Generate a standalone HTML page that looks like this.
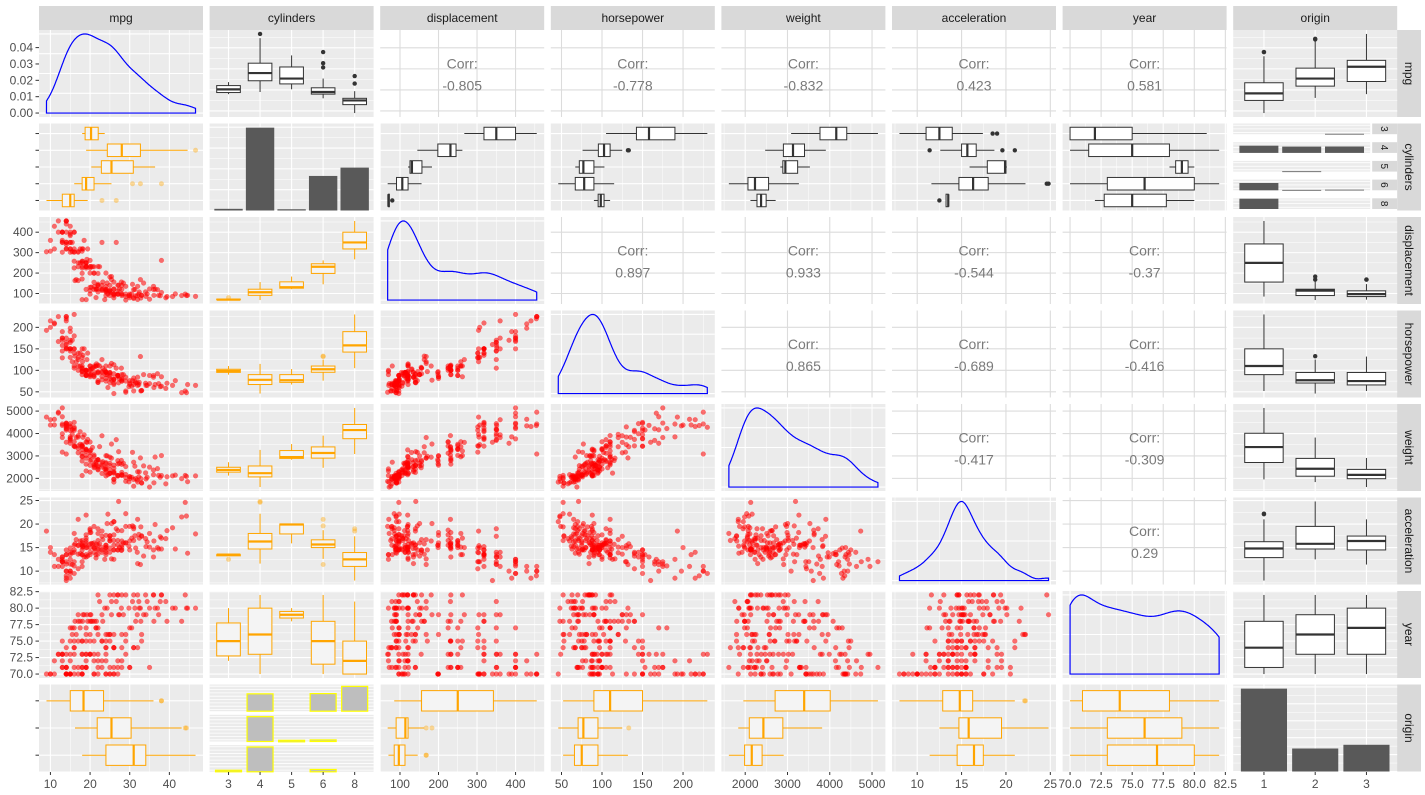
<!DOCTYPE html>
<html><head><meta charset="utf-8"><title>Auto pairs plot</title>
<style>
html,body{margin:0;padding:0;background:#fff;}
svg{display:block;font-family:"Liberation Sans",Arial,sans-serif;}
</style></head>
<body>
<svg id="chart" width="1425" height="795" viewBox="0 0 1425 795" xmlns="http://www.w3.org/2000/svg"></svg>
<script>
// columns: mpg, cylinders, displacement, horsepower, weight, acceleration, year, origin
const autoRows = [
[18,8,307,130,3504,12,70,1],[15,8,350,165,3693,11.5,70,1],[18,8,318,150,3436,11,70,1],[16,8,304,150,3433,12,70,1],
[17,8,302,140,3449,10.5,70,1],[15,8,429,198,4341,10,70,1],[14,8,454,220,4354,9,70,1],[14,8,440,215,4312,8.5,70,1],
[14,8,455,225,4425,10,70,1],[15,8,390,190,3850,8.5,70,1],[15,8,383,170,3563,10,70,1],[14,8,340,160,3609,8,70,1],
[15,8,400,150,3761,9.5,70,1],[14,8,455,225,3086,10,70,1],[24,4,113,95,2372,15,70,3],[22,6,198,95,2833,15.5,70,1],
[18,6,199,97,2774,15.5,70,1],[21,6,200,85,2587,16,70,1],[27,4,97,88,2130,14.5,70,3],[26,4,97,46,1835,20.5,70,2],
[25,4,110,87,2672,17.5,70,2],[24,4,107,90,2430,14.5,70,2],[25,4,104,95,2375,17.5,70,2],[26,4,121,113,2234,12.5,70,2],
[21,6,199,90,2648,15,70,1],[10,8,360,215,4615,14,70,1],[10,8,307,200,4376,15,70,1],[11,8,318,210,4382,13.5,70,1],
[9,8,304,193,4732,18.5,70,1],[27,4,97,88,2130,14.5,71,3],[28,4,140,90,2264,15.5,71,1],[25,4,113,95,2228,14,71,3],
[19,6,232,100,2634,13,71,1],[16,6,225,105,3439,15.5,71,1],[17,6,250,100,3329,15.5,71,1],[19,6,250,88,3302,15.5,71,1],
[18,6,232,100,3288,15.5,71,1],[14,8,350,165,4209,12,71,1],[14,8,400,175,4464,11.5,71,1],[14,8,351,153,4154,13.5,71,1],
[13,8,400,175,5140,12,71,1],[13,8,400,170,4746,12,71,1],[19,6,250,100,3282,15,71,1],[18,6,258,110,2962,13.5,71,1],
[23,4,122,86,2220,14,71,1],[22,4,140,72,2408,19,71,1],[35,4,72,69,1613,18,71,3],[30,4,88,76,2065,14.5,71,2],
[26,4,91,70,1955,20.5,71,1],[30,4,79,70,2074,19.5,71,2],[23,4,120,97,2506,14.5,72,3],[19,3,70,97,2330,13.5,72,3],
[24,4,113,95,2278,15.5,72,3],[21,4,120,87,2979,19.5,72,2],[22,4,121,76,2511,18,72,2],[11,8,429,208,4633,11,72,1],
[13,8,400,190,4422,12.5,72,1],[15,8,318,150,4135,13.5,72,1],[28,4,98,80,2164,15,72,1],[27,4,97,88,2100,16.5,72,3],
[18,3,70,90,2124,13.5,73,3],[20,4,97,88,2279,19,73,3],[13,8,350,145,3988,13,73,1],[12,8,455,225,4951,11,73,1],
[12,8,400,167,4906,12.5,73,1],[15,8,318,150,3777,12.5,73,1],[13,8,351,158,4363,13,73,1],[16,8,400,230,4278,9.5,73,1],
[29,4,68,49,1867,19.5,73,2],[24,4,121,110,2660,14,73,2],[19,6,232,100,2901,16,73,1],[18,6,225,105,3121,16.5,73,1],
[16,6,258,110,3632,18,74,1],[14,8,318,150,4457,13.5,74,1],[31,4,79,67,1950,19,74,3],[32,4,71,65,1836,21,74,3],
[24,4,90,75,2108,15.5,74,2],[26,4,79,67,1963,15.5,74,2],[31,4,76,52,1649,16.5,74,3],[20,6,232,100,2789,15,73,1],
[29,4,97,75,2171,16,75,3],[23,4,115,95,2694,15,75,2],[13,8,302,129,3169,12,75,1],[16,8,318,150,4498,14.5,75,1],
[18,6,250,105,3459,16,75,1],[19,6,232,90,3211,17,75,1],[21,6,231,110,3039,15,75,1],[15,8,350,145,4440,14,75,1],
[25,4,116,81,2220,16.9,76,2],[20,4,130,102,3150,15.7,76,2],[16.5,6,168,120,3820,16.7,76,2],[19,4,120,88,3270,21.9,76,2],
[24,6,200,81,3012,17.6,76,1],[26,4,98,79,2255,17.7,76,1],[28,4,97,75,2155,16.4,76,3],[25,4,140,92,2572,14.9,76,1],
[24.5,4,98,60,2164,22.1,76,1],[29,4,85,52,2035,22.2,76,1],[33,4,91,53,1795,17.4,76,3],[15.5,8,304,120,3962,13.9,76,1],
[16,8,400,180,4220,11.1,77,1],[15.5,8,350,170,4165,11.4,77,1],[15,8,302,130,4295,14.9,77,1],[21.5,3,80,110,2720,13.5,77,3],
[22,6,146,97,2815,14.5,77,3],[30,4,97,67,1985,16.4,77,3],[21.5,4,121,110,2600,12.8,77,2],[19,6,225,100,3630,17.7,77,1],
[20,6,225,110,3620,18.7,78,1],[17.5,8,318,140,4080,13.7,78,1],[17,6,163,125,3140,13.6,78,2],[20.3,5,131,103,2830,15.9,78,2],
[21.1,4,134,95,2515,14.8,78,3],[36.1,4,91,60,1800,16.4,78,3],[39.4,4,85,70,2070,18.6,78,3],[43.1,4,90,48,1985,21.5,78,2],
[18.1,6,258,120,3410,15.1,78,1],[19.4,8,318,140,3735,13.2,78,1],[18.5,8,360,150,3940,13,79,1],[23,8,350,125,3900,17.4,79,1],
[19.2,8,267,125,3605,15,79,1],[17,8,305,130,3840,15.4,79,1],[20,6,200,85,2990,18.2,79,1],[33.5,4,151,90,2556,13.2,79,1],
[27.2,4,141,71,3190,24.8,79,2],[37.3,4,91,69,2130,14.7,79,2],[34.1,4,86,65,1975,15.2,79,3],[25.4,5,183,77,3530,20.1,79,2],
[28.4,4,151,90,2670,16,79,1],[31.9,4,89,71,1925,14,79,2],[46.6,4,86,65,2110,17.9,80,3],[44.6,4,91,67,1850,13.8,80,3],
[44.3,4,90,48,2085,21.7,80,2],[41.5,4,98,76,2144,14.7,80,2],[40.8,4,85,65,2110,19.2,80,3],[37,4,119,92,2434,15,80,3],
[31.3,4,120,75,2542,17.5,80,3],[29.8,4,89,62,1845,15.3,80,2],[36.4,5,121,67,2950,19.9,80,2],[32.7,6,168,132,2910,11.4,80,3],
[32.4,4,107,72,2290,17,80,3],[35,4,122,88,2500,15.1,80,2],[23.7,3,70,100,2420,12.5,80,3],[27.9,4,156,105,2800,14.4,80,1],
[30.7,6,145,76,3160,19.6,81,2],[25.4,6,168,116,2900,12.6,81,3],[26.6,8,350,105,3725,19,81,1],[22.4,6,231,110,3415,15.8,81,1],
[37.7,4,89,62,2050,17.3,81,3],[39.1,4,79,58,1755,16.9,81,3],[32.3,4,97,67,2065,17.8,81,3],[34.4,4,98,65,2045,16.2,81,1],
[28,4,120,79,2625,18.6,82,1],[31,4,119,82,2720,19.4,82,1],[27,4,140,86,2790,15.6,82,1],[34,4,108,70,2245,16.9,82,3],
[29,4,135,84,2525,16,82,1],[25,6,181,110,2945,16.4,82,1],[38,6,262,85,3015,17,82,1],[22,6,232,112,2835,14.7,82,1],
[26,4,156,92,2585,14.5,82,1],[36,4,135,84,2370,13,82,1],[38,4,105,63,2125,14.7,82,1],[32,4,135,84,2295,11.6,82,1],
[44,4,97,52,2130,24.6,82,2],[27,4,112,88,2640,18.6,82,1],[36,4,120,88,2160,14.5,82,3],[24,4,120,97,2489,15,74,3],
[20,4,114,91,2582,14,73,2],[14,8,318,150,4237,14.5,73,1],[17,6,231,110,3907,21,75,1],[22,4,108,94,2379,16.5,73,3],
[26,4,122,80,2451,16.5,74,1],[13,8,360,175,3821,11,73,1],[21,6,155,107,2472,14,73,1],[28,4,90,75,2125,14.5,74,1],
[20,6,262,110,3221,13.5,75,1],[23,4,140,78,2592,18.5,75,1],[25,4,90,71,2223,16.5,75,2],[33,4,91,53,1795,17.5,75,3],
[18,6,171,97,2984,14.5,75,1],[22,4,140,72,2565,13.6,76,1],[17.5,6,250,110,3520,16.4,77,1],[30.5,4,98,63,2051,17,77,1],
[24,4,134,96,2702,13.5,75,3],[26,4,97,78,2300,14.5,74,2],[16,8,302,140,4141,14,74,1],[19,6,250,88,3021,16.5,73,1],
[18.2,8,318,135,3830,15.2,79,1],[21.6,4,121,115,2795,15.7,78,2],[24.3,4,151,90,3003,20.1,80,1],[27.4,4,121,80,2670,15,79,1],
[32.8,4,78,52,1985,19.4,78,3],[20.6,6,231,105,3380,15.8,78,1],[31.5,4,89,71,1990,14.9,78,2],[23.2,4,156,105,2745,16.7,78,1],
[16.2,6,163,133,3410,15.8,78,2],[20.2,6,232,90,3265,18.2,79,1]
];
const varNames = ['mpg','cylinders','displacement','horsepower','weight','acceleration','year','origin'];
const cylLevels = ['3','4','5','6','8'];
const originLevels = ['1','2','3'];
const cylCounts = [4,199,3,83,103];
const originCounts = [245,68,79];
const cylByOrigin = [[0,0,4],[72,63,64],[0,3,0],[73,4,6],[103,0,0]];
const corrRows = [0,0,0,0,0,2,2,2,2,3,3,3,4,4,5];
const corrCols = [2,3,4,5,6,3,4,5,6,4,5,6,5,6,6];
const corrVals = ['-0.805','-0.778','-0.832','0.423','0.581','0.897','0.933','-0.544','-0.37','0.865','-0.689','-0.416','-0.417','-0.309','0.29'];
const tickSets = [[10,20,30,40],null,[100,200,300,400],[50,100,150,200],[2000,3000,4000,5000],[10,15,20,25],[70,72.5,75,77.5,80,82.5],null];
const tickLabels = [['10','20','30','40'],['3','4','5','6','8'],['100','200','300','400'],['50','100','150','200'],['2000','3000','4000','5000'],['10','15','20','25'],['70.0','72.5','75.0','77.5','80.0','82.5'],['1','2','3']];
const densTicks = [0,0.01,0.02,0.03,0.04];
const densTickLabels = ['0.00','0.01','0.02','0.03','0.04'];

const NS='http://www.w3.org/2000/svg';
const svg=document.getElementById('chart');
function mk(tag,attrs,parent){const e=document.createElementNS(NS,tag);for(const k in attrs)e.setAttribute(k,attrs[k]);(parent||svg).appendChild(e);return e;}
function nm(e,n){
  
  
  return e;
}
const PW=164,PH=87;
const colX=i=>39+i*170.6;
const rowY=j=>30+j*93.5;
const col=k=>autoRows.map(r=>r[k]);
const isDisc=k=>k===1||k===7;
const levelsOf=k=>k===1?cylLevels:originLevels;
function rng(k){const a=col(k);const mn=Math.min(...a),mx=Math.max(...a);const p=(mx-mn)*0.05;return [mn-p,mx+p];}
function contX(k,i){const [a,b]=rng(k);const x0=colX(i);return v=>x0+(v-a)/(b-a)*PW;}
function contY(k,j){const [a,b]=rng(k);const y0=rowY(j);return v=>y0+PH-(v-a)/(b-a)*PH;}
function discPos(n,idx,start,len){return start+(idx+1-0.4)/(n+0.2)*len;}
function quant(s,p){const h=(s.length-1)*p,l=Math.floor(h);return s[l]+(s[Math.min(l+1,s.length-1)]-s[l])*(h-l);}
function boxStats(vals){const s=[...vals].sort((a,b)=>a-b);const q1=quant(s,0.25),q2=quant(s,0.5),q3=quant(s,0.75);const iq=q3-q1;
  const inn=s.filter(v=>v>=q1-1.5*iq&&v<=q3+1.5*iq);return {q1,q2,q3,lo:Math.min(...inn),hi:Math.max(...inn),out:s.filter(v=>v<q1-1.5*iq||v>q3+1.5*iq)};}
const STY={black:{st:'#333333',fill:'#ffffff',of:'#333333',oo:1,r:2.2},orange:{st:'#FFA500',fill:'#f4f4f4',of:'#FFA500',oo:0.4,r:2.5}};
function drawBox(g,vals,center,half,scale,vertical,style,name){
  if(!vals.length)return;const b=boxStats(vals);const S=STY[style];
  const grp=nm(mk('g',{},g),name);
  const L=(a1,b1,a2,b2,w)=>vertical?mk('line',{x1:a1,y1:b1,x2:a2,y2:b2,stroke:S.st,'stroke-width':w||1},grp):mk('line',{x1:b1,y1:a1,x2:b2,y2:a2,stroke:S.st,'stroke-width':w||1},grp);
  L(center,scale(b.hi),center,scale(b.q3));L(center,scale(b.q1),center,scale(b.lo));
  const p1=scale(b.q1),p3=scale(b.q3);
  if(vertical)mk('rect',{x:center-half,y:Math.min(p1,p3),width:2*half,height:Math.abs(p1-p3),fill:S.fill,stroke:S.st},grp);
  else mk('rect',{x:Math.min(p1,p3),y:center-half,width:Math.abs(p1-p3),height:2*half,fill:S.fill,stroke:S.st},grp);
  L(center-half,scale(b.q2),center+half,scale(b.q2),2.2);
  b.out.forEach(v=>{const o=vertical?mk('circle',{cx:center,cy:scale(v),r:S.r,fill:S.of,'fill-opacity':S.oo},grp):mk('circle',{cx:scale(v),cy:center,r:S.r,fill:S.of,'fill-opacity':S.oo},grp);
    
    });
}
function kde(vals){const n=vals.length;const s=[...vals].sort((a,b)=>a-b);const m=s.reduce((a,b)=>a+b,0)/n;
  const sd=Math.sqrt(s.reduce((a,b)=>a+(b-m)*(b-m),0)/(n-1));const iq=quant(s,0.75)-quant(s,0.25);
  const bw=0.9*Math.min(sd,iq/1.34)*Math.pow(n,-0.2);const mn=s[0],mx=s[n-1];const pts=[];
  for(let i=0;i<=200;i++){const x=mn+(mx-mn)*i/200;let d=0;for(const v of s){const z=(x-v)/bw;d+=Math.exp(-0.5*z*z);}pts.push([x,d/(n*bw*Math.sqrt(2*Math.PI))]);}
  return pts;}
function gridFor(g,k,isX,pos,x0,y0,color,minorOn){
  if(isDisc(k)){const n=levelsOf(k).length;for(let i=0;i<n;i++){const p=isX?discPos(n,i,x0,PW):discPos(n,i,y0,PH);
      if(isX)mk('line',{x1:p,y1:y0,x2:p,y2:y0+PH,stroke:color,'stroke-width':1.1},g);else mk('line',{x1:x0,y1:p,x2:x0+PW,y2:p,stroke:color,'stroke-width':1.1},g);}return;}
  const t=tickSets[k];const step=t[1]-t[0];const all=[];for(let v=t[0]-step;v<=t[t.length-1]+step;v+=step/2)all.push(v);
  all.forEach((v,ix)=>{const major=(ix%2===0);if(!major&&!minorOn)return;const p=pos(v);
    if(isX){if(p<x0||p>x0+PW)return;mk('line',{x1:p,y1:y0,x2:p,y2:y0+PH,stroke:color,'stroke-width':major?1.1:0.5},g);}
    else{if(p<y0||p>y0+PH)return;mk('line',{x1:x0,y1:p,x2:x0+PW,y2:p,stroke:color,'stroke-width':major?1.1:0.5},g);}});
}

varNames.forEach((v,i)=>{
  const s=nm(mk('g',{}),'column-strip-'+v);
  mk('rect',{x:colX(i),y:6,width:PW,height:24,fill:'#d9d9d9'},s);
  mk('text',{x:colX(i)+PW/2,y:22,'text-anchor':'middle','font-size':12,fill:'#1a1a1a'},s).textContent=v;
  const r=nm(mk('g',{}),'row-strip-'+v);
  mk('rect',{x:1397,y:rowY(i),width:24,height:PH,fill:'#d9d9d9'},r);
  mk('text',{x:0,y:0,'text-anchor':'middle','font-size':12,fill:'#1a1a1a',transform:`translate(1405,${rowY(i)+PH/2}) rotate(90)`},r).textContent=v;
});

for(let j=0;j<8;j++){for(let i=0;i<8;i++){
  const x0=colX(i),y0=rowY(j);const g=nm(mk('g',{}),`panel-${varNames[j]}-vs-${varNames[i]}`);
  const upper=i>j&&!isDisc(i)&&!isDisc(j);
  if(upper){
    mk('rect',{x:x0,y:y0,width:PW,height:PH,fill:'#ffffff'},g);
    gridFor(g,i,true,contX(i,i),x0,y0,'#dcdcdc',false);
    gridFor(g,j,false,contY(j,j),x0,y0,'#dcdcdc',false);
    continue;
  }
  if(j===1&&i===7){
    mk('rect',{x:x0,y:y0,width:PW,height:PH,fill:'#ffffff'},g);
    cylLevels.forEach((lv,a)=>{const fy=y0+a*18.7,fh=10.7;
      mk('rect',{x:x0,y:fy,width:137,height:fh,fill:'#ebebeb'},g);
      for(let q=0;q<3;q++)mk('line',{x1:x0,y1:fy+fh*(q+0.5)/3,x2:x0+137,y2:fy+fh*(q+0.5)/3,stroke:'#fff','stroke-width':0.8},g);
      const st=nm(mk('g',{},g),'facet-strip-cyl-'+lv);mk('rect',{x:x0+139,y:fy,width:25,height:fh,fill:'#d9d9d9'},st);
      mk('text',{x:0,y:0,'font-size':10,fill:'#1a1a1a','text-anchor':'middle',transform:`translate(${x0+148},${fy+fh/2}) rotate(90)`},st).textContent=lv;
      originLevels.forEach((o,b)=>{const c=cylByOrigin[a][b];if(!c)return;const cx=discPos(3,b,x0,137);const h=Math.min(c*0.1,fh);
        const r=mk('rect',{x:cx-19.5,y:fy+fh-h,width:39,height:Math.max(h,0.8),fill:'#595959'},g);
        
        });});
    continue;
  }
  if(j===7&&i===1){
    mk('rect',{x:x0,y:y0,width:PW,height:PH,fill:'#ffffff'},g);
    originLevels.forEach((o,b)=>{const fy=y0+b*30.3,fh=26.7;
      mk('rect',{x:x0,y:fy,width:PW,height:fh,fill:'#ebebeb'},g);
      for(let q=0;q<8;q++)mk('line',{x1:x0,y1:fy+fh*(q+0.5)/8,x2:x0+PW,y2:fy+fh*(q+0.5)/8,stroke:'#fff','stroke-width':0.8},g);
      const mx=Math.max(...cylByOrigin.map(r=>r[b]));
      cylLevels.forEach((lv,a)=>{const c=cylByOrigin[a][b];if(!c)return;const cx=discPos(5,a,x0,PW);const h=c/mx*fh*0.93;
        const r=mk('rect',{x:cx-13,y:fy+fh-h,width:26,height:Math.max(h,1.5),fill:'#bebebe',stroke:'#ffff00','stroke-width':1.2},g);
        
        });});
    continue;
  }
  mk('rect',{x:x0,y:y0,width:PW,height:PH,fill:'#ebebeb'},g);
  if(i===j){
    if(isDisc(i)){const n=levelsOf(i).length;const counts=i===1?cylCounts:originCounts;const mx=Math.max(...counts)*1.05;
      const ys=v=>y0+PH-v/mx*PH;
      for(let v=0;v<=mx;v+=25)mk('line',{x1:x0,y1:ys(v),x2:x0+PW,y2:ys(v),stroke:'#fff','stroke-width':v%50===0?1.1:0.5},g);
      gridFor(g,i,true,null,x0,y0,'#fff',false);
      const bw=0.9*PW/(n+0.2);
      counts.forEach((c,a)=>{const cx=discPos(n,a,x0,PW);const r=mk('rect',{x:cx-bw/2,y:ys(c),width:bw,height:ys(0)-ys(c),fill:'#595959'},g);
        
        });
    } else {
      const d=kde(col(i));const dm=Math.max(...d.map(p=>p[1]));const top=dm*1.05,bot=-dm*0.05;
      const ys=v=>y0+PH-(v-bot)/(top-bot)*PH;const xs=contX(i,i);
      gridFor(g,i,true,xs,x0,y0,'#fff',true);
      [0,dm/4,dm/2,dm*3/4,dm].forEach(v=>mk('line',{x1:x0,y1:ys(v),x2:x0+PW,y2:ys(v),stroke:'#fff','stroke-width':1.1},g));
      if(i===0){densTicks.forEach((v,ix)=>{mk('line',{x1:35.5,y1:ys(v),x2:39,y2:ys(v),stroke:'#333'});
        mk('text',{x:33,y:ys(v)+4,'text-anchor':'end','font-size':12,fill:'#4d4d4d'}).textContent=densTickLabels[ix];});}
      let pth=`M${xs(d[0][0])},${ys(0)}`;d.forEach(p=>pth+=`L${xs(p[0]).toFixed(1)},${ys(p[1]).toFixed(1)}`);pth+=`L${xs(d[d.length-1][0])},${ys(0)}Z`;
      const p=mk('path',{d:pth,fill:'none',stroke:'#0000ff','stroke-width':1.2},g);
      
      
    }
    continue;
  }
  gridFor(g,i,true,isDisc(i)?null:contX(i,i),x0,y0,'#fff',true);
  gridFor(g,j,false,isDisc(j)?null:contY(j,j),x0,y0,'#fff',true);
  if(!isDisc(i)&&!isDisc(j)){
    const xs=contX(i,i),ys=contY(j,j);
    autoRows.forEach(r=>{const c=mk('circle',{cx:xs(r[i]),cy:ys(r[j]),r:2.4,fill:'#ff0000','fill-opacity':0.55,stroke:'#ff0000','stroke-opacity':0.3,'stroke-width':0.5},g);
      
      });
  } else if(isDisc(i)&&!isDisc(j)){
    const n=levelsOf(i).length;const ys=contY(j,j);const half=0.375*PW/(n+0.2);
    const style=(i===7||j===0)?'black':'orange';
    levelsOf(i).forEach((lv,a)=>drawBox(g,autoRows.filter(r=>String(r[i])===lv).map(r=>r[j]),discPos(n,a,x0,PW),half,ys,true,style,'box-'+varNames[i]+lv));
  } else if(!isDisc(i)&&isDisc(j)){
    const n=levelsOf(j).length;const xs=contX(i,i);const half=0.375*PH/(n+0.2);
    const style=(j===1&&i>0)?'black':'orange';
    levelsOf(j).forEach((lv,a)=>{const idx=style==='black'?(n-1-a):a;
      drawBox(g,autoRows.filter(r=>String(r[j])===lv).map(r=>r[i]),discPos(n,idx,y0,PH),half,xs,false,style,'box-'+varNames[j]+lv);});
  }
}}

corrVals.forEach((v,ix)=>{const i=corrCols[ix],j=corrRows[ix];const cx=colX(i)+PW/2,cy=rowY(j)+PH/2;
  const t=mk('text',{x:cx,y:cy-5,'text-anchor':'middle','font-size':14,fill:'#7a7a7a'});t.textContent='Corr:';
  
  
  const t2=mk('text',{x:cx,y:cy+17,'text-anchor':'middle','font-size':14,fill:'#7a7a7a'});t2.textContent=v;
  
  });

for(let i=0;i<8;i++){const ax=nm(mk('g',{}),'x-axis-'+varNames[i]);const x0=colX(i);
  if(isDisc(i)){const L=levelsOf(i);L.forEach((lv,a)=>{const p=discPos(L.length,a,x0,PW);mk('line',{x1:p,y1:772,x2:p,y2:775,stroke:'#333'},ax);
    mk('text',{x:p,y:788,'text-anchor':'middle','font-size':12,fill:'#4d4d4d'},ax).textContent=tickLabels[i][a];});}
  else{const xs=contX(i,i);tickSets[i].forEach((v,a)=>{const p=xs(v);mk('line',{x1:p,y1:772,x2:p,y2:775,stroke:'#333'},ax);
    mk('text',{x:p,y:788,'text-anchor':'middle','font-size':12,fill:'#4d4d4d'},ax).textContent=tickLabels[i][a];});}
}
for(let j=1;j<8;j++){const ax=nm(mk('g',{}),'y-axis-'+varNames[j]);const y0=rowY(j);
  if(isDisc(j)){const n=levelsOf(j).length;for(let a=0;a<n;a++){const p=discPos(n,a,y0,PH);mk('line',{x1:35.5,y1:p,x2:39,y2:p,stroke:'#333'},ax);}}
  else{const ys=contY(j,j);tickSets[j].forEach((v,a)=>{const p=ys(v);if(p<y0-1||p>y0+PH+1)return;mk('line',{x1:35.5,y1:p,x2:39,y2:p,stroke:'#333'},ax);
    mk('text',{x:33,y:p+4,'text-anchor':'end','font-size':12,fill:'#4d4d4d'},ax).textContent=tickLabels[j][a];});}
}
</script>
</body></html>
